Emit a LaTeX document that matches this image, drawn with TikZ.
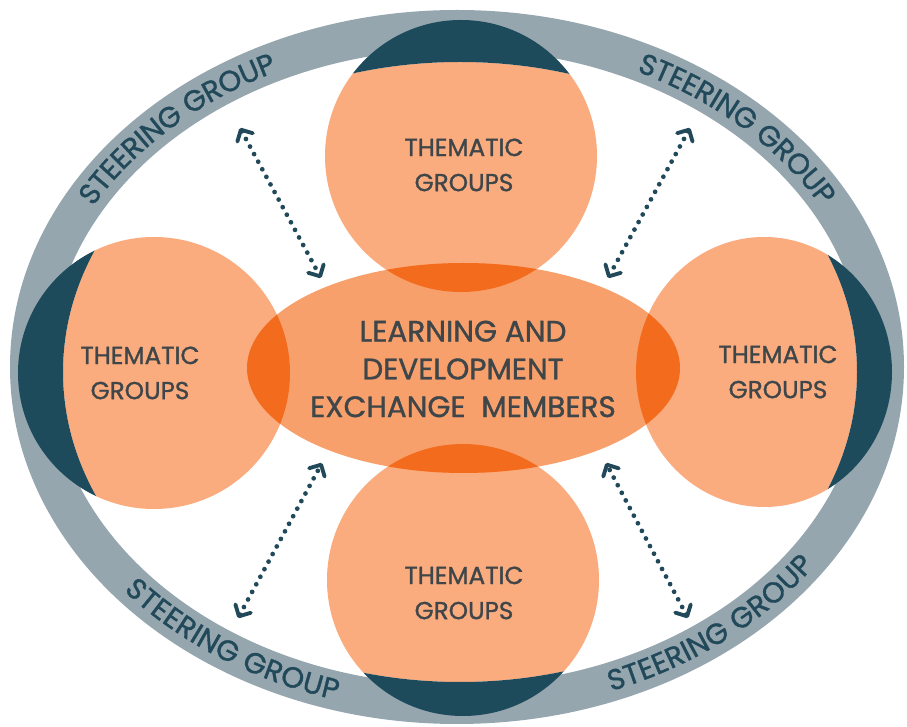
\documentclass[tikz,border=0pt]{standalone}
\usepackage{fontspec}
\newfontfamily\diagfont[RawFeature={embolden=1.2}]{Poppins}
\usepackage{tikz}
\usetikzlibrary{arrows.meta}
\usetikzlibrary{decorations.text}
\usepackage{xcolor}
\definecolor{ringgrey}{HTML}{95A6AE}
\definecolor{capnavy}{HTML}{1E4B5C}
\definecolor{paleorange}{HTML}{FBAC7E}
\definecolor{hubbody}{HTML}{F8A06C}
\definecolor{lensorange}{HTML}{F36C1E}
\definecolor{labelgrey}{HTML}{3E4649}
\definecolor{steerblue}{HTML}{21495A}

\begin{document}
\begin{tikzpicture}[x=0.02cm,y=0.02cm,
  grouptext/.style={font={\diagfont\fontsize{14}{20}\selectfont}, text=labelgrey, align=center},
  hubtext/.style={font={\diagfont\fontsize{16.8}{21.5}\selectfont}, text=labelgrey, align=center},
  linkarrow/.style={{Straight Barb[length=5pt,width=10pt,line width=2.2pt,round]}-{Straight Barb[length=5pt,width=10pt,line width=2.2pt,round]},
    draw=steerblue, line width=2.7pt, line cap=round, dash pattern=on 0pt off 4.9pt},
  steerlabel/.style={decorate, decoration={text along path, text align=center, raise=-5.4pt,
    text color=steerblue, text={|\diagfont\fontsize{16.5}{16.5}\selectfont|STEERING GROUP}}}]
  \path[use as bounding box, fill=white] (0,0) rectangle (907,727);
  \coordinate (ring) at (457,360);
  \coordinate (inner) at (460,355);
  \coordinate (hub) at (463.5,359);

  \fill[ringgrey, even odd rule] (ring) ellipse [x radius=447, y radius=357] (ring) ellipse [x radius=407, y radius=318];

 \foreach \cx/\cy/\rx/\ry in {461/571/136/136, 463/147/136/136, 154/354/136/136, 764/355/128/135} {
   \begin{scope}
     \clip (inner) ellipse [x radius=397, y radius=310];
     \fill[paleorange] (\cx,\cy) ellipse [x radius=\rx, y radius=\ry];
   \end{scope}
   \begin{scope}
     \clip (\cx,\cy) ellipse [x radius=\rx, y radius=\ry];
     \fill[capnavy, even odd rule] (ring) ellipse [x radius=447, y radius=357] (inner) ellipse [x radius=397, y radius=310];
   \end{scope}
 }

  \fill[hubbody] (hub) ellipse [x radius=216.5, y radius=105];
  \begin{scope}
    \clip (hub) ellipse [x radius=216.5, y radius=105];
    \foreach \cx/\cy/\rx/\ry in {461/571/136/136, 463/147/136/136, 154/354/136/136, 764/355/128/135}
      \fill[lensorange] (\cx,\cy) ellipse [x radius=\rx, y radius=\ry];
  \end{scope}

  \node[grouptext] (north) at (464,562) {THEMATIC\\GROUPS};
  \node[grouptext] (west) at (140,354) {THEMATIC\\GROUPS};
  \node[grouptext] (east) at (778,355) {THEMATIC\\GROUPS};
  \node[grouptext] (south) at (464,134) {THEMATIC\\GROUPS};
  \node[hubtext] (members) at (463,358) {LEARNING AND\\DEVELOPMENT\\EXCHANGE\ \ MEMBERS};

  \coordinate (nwring) at (240,599);  \coordinate (nwhub) at (321,449);
  \coordinate (nering) at (690,599);  \coordinate (nehub) at (608,449);
  \coordinate (swring) at (238,109);  \coordinate (swhub) at (322,264);
  \coordinate (sering) at (688,109);  \coordinate (sehub) at (606,264);
  \draw[linkarrow] (nwring) -- (nwhub);
  \draw[linkarrow] (nering) -- (nehub);
  \draw[linkarrow] (swring) -- (swhub);
  \draw[linkarrow] (sering) -- (sehub);

  \path[steerlabel] (ring) ++(164:427 and 337) arc [start angle=164, end angle=104, x radius=427, y radius=337];
  \path[steerlabel] (ring) ++(76:427 and 337) arc [start angle=76, end angle=16, x radius=427, y radius=337];
  \path[steerlabel] (ring) ++(206:427 and 337) arc [start angle=206, end angle=266, x radius=427, y radius=337];
  \path[steerlabel] (ring) ++(279:427 and 337) arc [start angle=279, end angle=339, x radius=427, y radius=337];
\end{tikzpicture}
\end{document}
